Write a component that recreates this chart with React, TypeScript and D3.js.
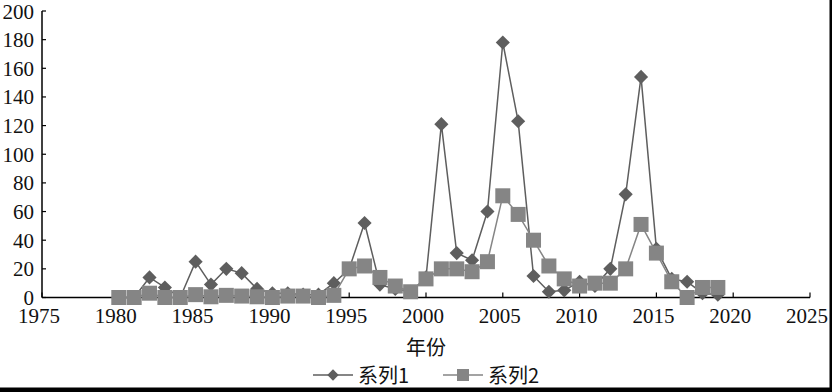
import { scaleLinear, line, range } from 'd3';

const years = range(1980, 2020);
const series1 = [0, 0, 14, 7, 0, 25, 9, 20, 17, 6, 3, 3, 2, 2, 10, 20, 52, 9, 6, 4, 14, 121, 31, 26, 60, 178, 123, 15, 4, 5, 11, 8, 20, 72, 154, 34, 13, 11, 3, 2];
const series2 = [0, 0, 3, 0, 0, 2, 0.5, 1.5, 1, 0.5, 0, 1, 1, 0, 1.5, 20, 22, 14, 8, 4, 13, 20, 20, 18, 25, 71, 58, 40, 22, 13, 8, 10, 10, 20, 51, 31, 11, 0, 7, 7];
const xTicks = [1975, 1980, 1985, 1990, 1995, 2000, 2005, 2010, 2015, 2020, 2025];
const yTicks = [0, 20, 40, 60, 80, 100, 120, 140, 160, 180, 200];
const xTitle = '年份';
const seriesNames = ['系列1', '系列2'];

const W = 832;
const H = 392;
const left = 42;
const right = 810;
const top = 11;
const bottom = 297.5;

const c1 = '#5e5e5e';
const c2 = '#858585';
const serif = '"Liberation Serif", "Times New Roman", serif';
const cjk = '"Noto Sans CJK SC", sans-serif';

export default function App() {
  const x = scaleLinear().domain([1975, 2025]).range([left, right]);
  const y = scaleLinear().domain([0, 200]).range([bottom, top]);

  const path1 = line<number>()
    .x((d, i) => x(years[i]))
    .y((d) => y(d))(series1);
  const path2 = line<number>()
    .x((d, i) => x(years[i]))
    .y((d) => y(d))(series2);

  const sq = 15;
  const dm = 10;

  return (
    <svg width={W} height={H} style={{ position: 'absolute', left: 0, top: 0, background: '#fff' }}>
      {/* axes */}
      <line x1={left} x2={left} y1={top} y2={bottom} stroke="#000" strokeWidth={1.5} />
      <line x1={left} x2={right} y1={bottom} y2={bottom} stroke="#000" strokeWidth={1.5} />
      {yTicks.map((t) => (
        <g key={'y' + t}>
          <line x1={left} x2={left + 4} y1={y(t)} y2={y(t)} stroke="#000" strokeWidth={1.2} />
          <text x={34} y={y(t) + 7.5} textAnchor="end" fontFamily={serif} fontSize={21} fill="#111">
            {t}
          </text>
        </g>
      ))}
      {xTicks.map((t) => (
        <g key={'x' + t}>
          <line x1={x(t)} x2={x(t)} y1={bottom} y2={bottom - 5} stroke="#000" strokeWidth={1.2} />
          <text x={x(t) - 3} y={323} textAnchor="middle" fontFamily={serif} fontSize={21} fill="#111">
            {t}
          </text>
        </g>
      ))}

      {/* series 1 */}
      <path d={path1 || ''} fill="none" stroke={c1} strokeWidth={1.5} />
      {series1.map((v, i) => (
        <rect
          key={'d' + i}
          x={-dm / 2}
          y={-dm / 2}
          width={dm}
          height={dm}
          fill={c1}
          transform={`translate(${x(years[i])},${y(v)}) rotate(45)`}
        />
      ))}

      {/* series 2 */}
      <path d={path2 || ''} fill="none" stroke={c2} strokeWidth={1.5} />
      {series2.map((v, i) => (
        <rect key={'s' + i} x={x(years[i]) - sq / 2} y={y(v) - sq / 2} width={sq} height={sq} fill={c2} />
      ))}

      {/* axis title */}
      <text x={(left + right) / 2} y={355} textAnchor="middle" fontFamily={cjk} fontSize={20} fill="#111">
        {xTitle}
      </text>

      {/* legend */}
      <line x1={313} x2={353} y1={375} y2={375} stroke={c1} strokeWidth={1.5} />
      <rect x={-4} y={-4} width={8} height={8} fill={c1} transform="translate(333,375) rotate(45)" />
      <text x={358} y={383} fontFamily={cjk} fontSize={20} fill="#111">
        {seriesNames[0]}
      </text>
      <line x1={443} x2={483} y1={375} y2={375} stroke={c2} strokeWidth={1.5} />
      <rect x={457} y={369} width={12} height={12} fill={c2} />
      <text x={488} y={383} fontFamily={cjk} fontSize={20} fill="#111">
        {seriesNames[1]}
      </text>

      {/* frame edges */}
      <rect x={829.5} y={0} width={2.5} height={H} fill="#000" />
      <rect x={0} y={387.5} width={W} height={4.5} fill="#000" />
    </svg>
  );
}
